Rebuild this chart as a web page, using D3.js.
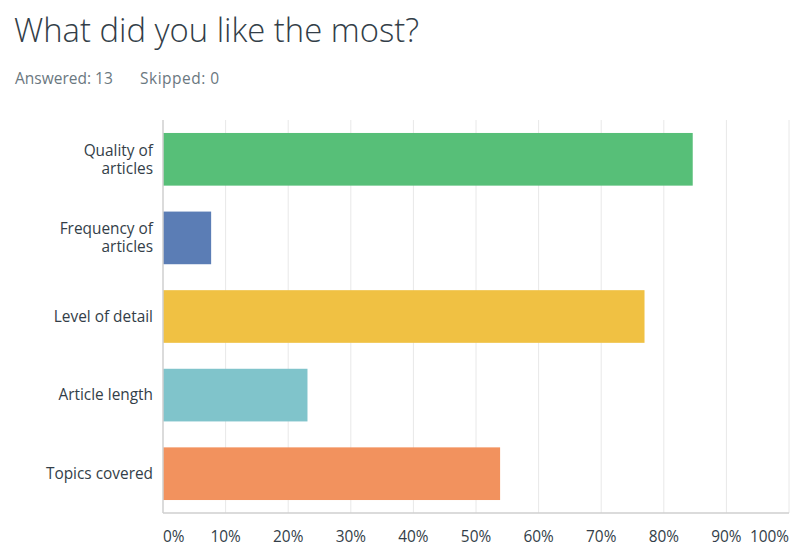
<!DOCTYPE html>
<html><head><meta charset="utf-8">
<script src="https://cdn.jsdelivr.net/npm/d3@7"></script>
<style>body{margin:0;background:#fff}svg{display:block}</style>
</head><body>
<svg id="chart" width="800" height="551"></svg>
<script>
const title = "What did you like the most?";
const answered = "Answered: 13";
const skipped = "Skipped: 0";
const categories = ["Quality of articles", "Frequency of articles", "Level of detail", "Article length", "Topics covered"];
const labelLines = [["Quality of", "articles"], ["Frequency of", "articles"], ["Level of detail"], ["Article length"], ["Topics covered"]];
const values = [84.62, 7.69, 76.92, 23.08, 53.85];
const colors = ["#57bf78", "#5b7db5", "#f0c143", "#80c4cb", "#f2925e"];
const ticks = [0, 10, 20, 30, 40, 50, 60, 70, 80, 90, 100];

const font = "'Open Sans', sans-serif";
const svg = d3.select("#chart");
const pLeft = 163, pRight = 789, pTop = 120, pBottom = 513;

const x = d3.scaleLinear().domain([0, 100]).range([pLeft, pRight]);
const y = d3.scaleBand().domain(categories).range([pTop, pBottom]).paddingInner(0.33).paddingOuter(0.165);

svg.append("text").attr("x", 14).attr("y", 42).text(title)
  .attr("font-family", font).attr("font-weight", 300).attr("font-size", 32.8).attr("fill", "#333e48");
svg.append("text").attr("x", 15).attr("y", 84).text(answered)
  .attr("font-family", font).attr("font-size", 15.5).attr("fill", "#6b787f");
svg.append("text").attr("x", 140).attr("y", 84).text(skipped)
  .attr("font-family", font).attr("font-size", 15.5).attr("letter-spacing", 0.5).attr("fill", "#6b787f");

// gridlines
svg.append("g").selectAll("line").data(ticks.slice(1)).join("line")
  .attr("x1", d => x(d)).attr("x2", d => x(d)).attr("y1", pTop).attr("y2", pBottom)
  .attr("stroke", "#e8e8e8").attr("stroke-width", 1);

// bars
svg.append("g").selectAll("rect").data(categories).join("rect")
  .attr("x", x(0)).attr("y", d => y(d))
  .attr("width", (d, i) => x(values[i]) - x(0)).attr("height", y.bandwidth())
  .attr("fill", (d, i) => colors[i]);

// axes lines
svg.append("line").attr("x1", pLeft).attr("x2", pLeft).attr("y1", pTop).attr("y2", pBottom)
  .attr("stroke", "#cfcfcf").attr("stroke-width", 1.5);
svg.append("line").attr("x1", pLeft).attr("x2", pRight).attr("y1", pBottom).attr("y2", pBottom)
  .attr("stroke", "#cfcfcf").attr("stroke-width", 1.5);

// category labels
const lg = svg.append("g");
categories.forEach((c, i) => {
  const lines = labelLines[i];
  const cy = y(c) + y.bandwidth() / 2;
  const lh = 18;
  lines.forEach((l, j) => {
    lg.append("text").attr("x", 153).attr("y", cy + (j - (lines.length - 1) / 2) * lh)
      .attr("dy", "0.35em").attr("text-anchor", "end").text(l)
      .attr("font-family", font).attr("font-size", 15.4).attr("fill", "#333e48");
  });
});

// x tick labels
svg.append("g").selectAll("text").data(ticks).join("text")
  .attr("x", d => x(d)).attr("y", 537).attr("dy", "0.35em")
  .attr("text-anchor", (d, i) => i === 0 ? "start" : (i === ticks.length - 1 ? "end" : "middle"))
  .text(d => d + "%")
  .attr("font-family", font).attr("font-size", 15.4).attr("fill", "#333e48");
</script>
</body></html>
